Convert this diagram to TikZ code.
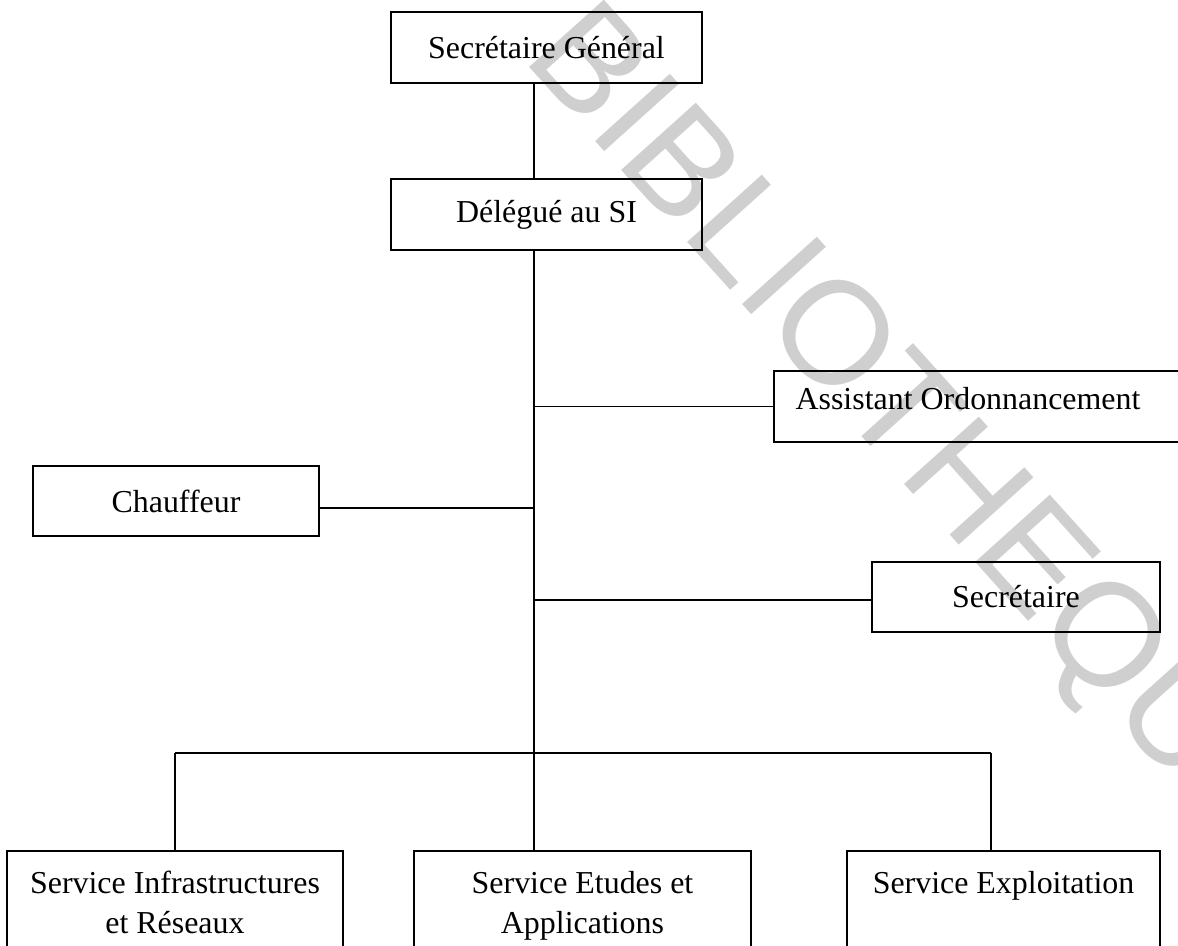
\documentclass[tikz,border=0pt]{standalone}
\usepackage{fontspec}
\setmainfont{Liberation Serif}
\newfontfamily\filigranefont{Liberation Sans}
\usepackage{tikz}
\usetikzlibrary{calc,positioning}

\begin{document}
\begin{tikzpicture}[x=0.025cm, y=-0.025cm,
  boite/.style={draw, line width=1.3pt, inner sep=0pt, align=center,
    minimum height=1.775cm, font=\fontsize{22.7}{28.4}\selectfont},
  service/.style={boite, anchor=north, minimum height=0pt, inner ysep=0.5cm,
    execute at begin node=\strut, execute at end node=\strut},
  lien/.style={line width=0.95pt},
  filigrane/.style={text=black!19, rotate=-48, inner sep=0pt, text depth=0pt,
    font=\filigranefont\fontsize{104}{104}\selectfont}]
\useasboundingbox (0,0) rectangle (1178,946);
% Filigrane en fond
\node[filigrane] (wm) at (921,426) {BIBLIOTHEQUE};
% Direction
\node[boite, minimum width=7.775cm] (sg) at (546.5,47.5) {Secr\'etaire G\'en\'eral};
\node[boite, minimum width=7.775cm] (delegue) at (546.5,214.5) {D\'el\'egu\'e au SI};
% Rattachements directs
\node[boite, minimum width=10.25cm, text depth=0.4cm] (assistant) at (979,406.5)
  {Assistant Ordonnancement\hspace*{0.55cm}};
\node[boite, minimum width=7.15cm, minimum height=1.75cm] (chauffeur) at (176,501) {Chauffeur};
\node[boite, minimum width=7.2cm, minimum height=1.75cm] (secretaire) at (1016,597) {Secr\'etaire};
% Services (bas coupe par le bord)
\node[service, minimum width=8.4cm] (infra) at (175,850) {Service Infrastructures\\et R\'eseaux};
\node[service, minimum width=8.425cm] (etudes) at (582.5,850) {Service Etudes et\\Applications};
\node[service, minimum width=7.825cm] (exploit) at (1003.5,850) {Service Exploitation\\\mbox{}};
% Points de jonction
\coordinate (axe) at (534,0);
\coordinate (jch) at (534,508);
\coordinate (jsec) at (534,600);
\coordinate (binf) at (175,753);
\coordinate (bexp) at (991,753);
% Liaisons
\draw[lien] (sg.south -| axe) -- (delegue.north -| axe);
\draw[lien] (delegue.south -| axe) -- (etudes.north -| axe);
\draw[lien] (assistant.west) -- (assistant.west -| axe);
\draw[lien] (jch) -- (jch -| chauffeur.east);
\draw[lien] (jsec) -- (jsec -| secretaire.west);
\draw[lien] (binf) -- (bexp);
\draw[lien] (binf) -- (infra.north);
\draw[lien] (bexp) -- (bexp |- exploit.north);
\end{tikzpicture}
\end{document}
